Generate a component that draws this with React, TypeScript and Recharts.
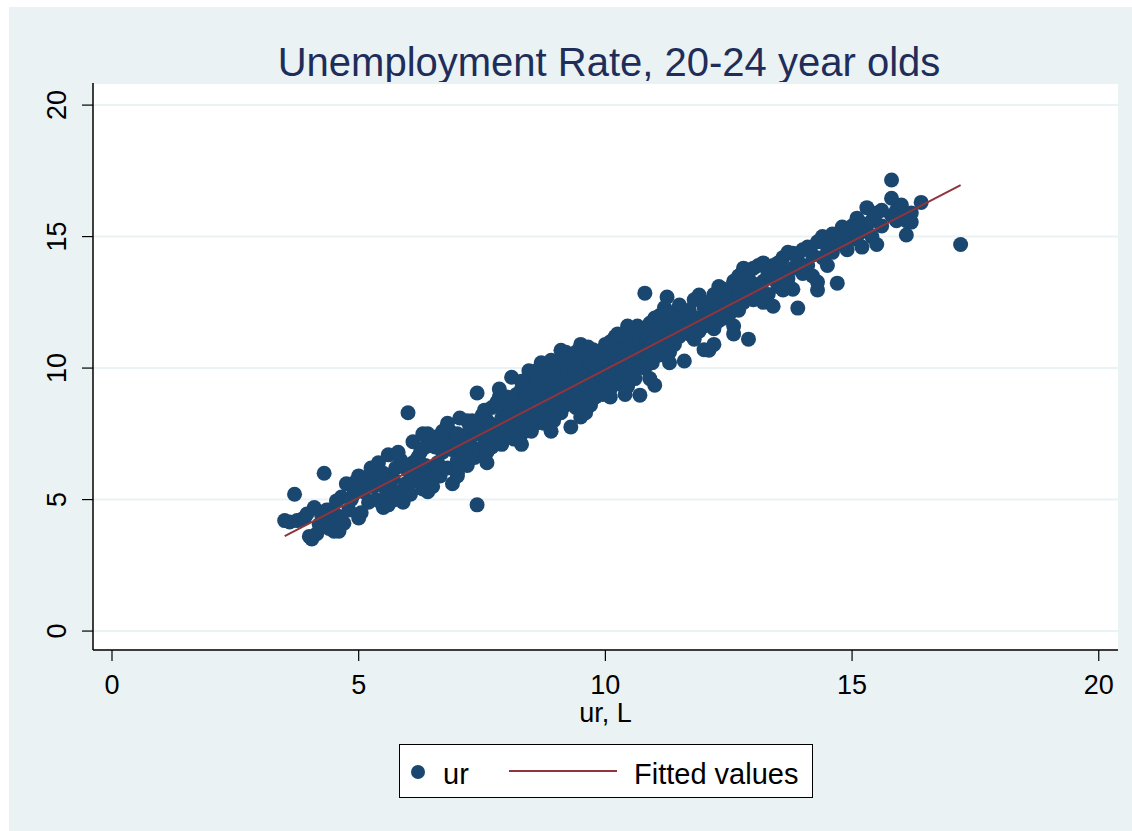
import React from "react";
import { ScatterChart, Scatter, XAxis, YAxis, CartesianGrid, Legend, Label } from "recharts";

const urPairs: [number, number][] = [
  [3.5,4.2],[3.6,4.15],[3.7,5.2],[3.75,4.2],[3.85,4.25],[3.9,4.3],[4.0,3.6],[4.05,3.5],[4.1,4.7],[4.15,3.7],
  [4.2,4.05],[4.3,6.0],[4.3,4.3],[4.35,4.6],[4.4,3.9],[4.45,4.1],[4.5,3.8],[4.55,4.4],[4.6,3.8],[4.65,5.1],
  [4.7,4.1],[4.75,5.6],[4.8,4.6],[4.9,5.2],[4.95,5.7],[5.0,4.3],[5.0,5.9],[5.05,4.5],[4.4,4.6],[4.25,4.4],
  [3.95,4.45],[4.55,4.95],[4.85,5.0],
  [5.1,5.3],[5.15,5.8],[5.2,4.9],[5.25,6.2],[5.3,5.5],[5.35,5.0],[5.4,6.4],[5.45,5.7],[5.5,4.7],[5.5,6.0],
  [5.55,5.4],[5.6,6.7],[5.65,5.1],[5.7,5.8],[5.75,6.2],[5.8,5.3],[5.85,6.5],[5.9,4.9],[5.95,5.6],[6.0,8.3],
  [6.0,6.1],[6.05,5.2],[6.1,6.4],[6.15,5.7],[6.2,6.0],[6.25,6.8],[6.3,5.4],[6.3,7.5],[6.35,6.3],[6.4,5.8],
  [6.45,7.2],[6.5,6.1],[6.5,5.5],[5.3,6.0],[5.6,5.6],[5.9,6.3],[6.2,6.6],[5.45,4.9],[5.75,5.0],[6.35,7.0],
  [6.55,7.0],[6.6,6.4],[6.6,7.4],[6.65,5.9],[6.7,6.8],[6.75,7.3],[6.8,6.2],[6.85,7.6],[6.9,5.6],[6.9,6.9],
  [6.95,7.2],[7.0,6.5],[7.0,7.5],[7.05,8.1],[7.1,6.8],[7.15,7.4],[7.2,6.3],[7.25,7.8],[7.3,7.0],[7.35,6.6],
  [7.4,4.8],[7.4,9.05],[7.4,7.5],[7.45,6.9],[7.5,7.7],[7.5,8.2],[7.55,7.1],[7.6,6.8],[7.6,8.0],[7.65,7.4],
  [7.7,8.5],[7.7,7.0],[7.75,7.8],[7.8,7.3],[7.8,8.7],[7.85,7.6],[7.9,8.1],[7.9,7.1],[7.95,8.4],[8.0,7.7],
  [8.0,8.9],[6.7,7.6],[7.0,6.0],[7.2,7.1],[7.3,8.0],[7.55,8.4],[7.85,8.9],[6.55,6.2],[7.15,6.6],[7.65,7.9],
  [8.05,7.4],[8.05,8.3],[8.05,8.6],[8.1,9.65],[8.1,7.9],[8.1,8.1],[8.15,7.3],[8.15,8.8],[8.2,8.2],[8.2,7.6],
  [8.2,9.0],[8.25,8.5],[8.25,7.9],[8.3,9.2],[8.3,8.0],[8.3,7.5],[8.35,8.7],[8.35,8.3],[8.4,7.8],[8.4,9.1],
  [8.4,8.5],[8.45,9.9],[8.45,8.2],[8.5,8.0],[8.5,8.8],[8.5,9.4],[8.5,7.6],[8.55,8.5],[8.55,9.0],[8.6,7.9],
  [8.6,9.5],[8.6,8.3],[8.65,8.9],[8.65,8.6],[8.7,10.2],[8.7,8.1],[8.7,9.2],[8.75,8.7],[8.75,9.6],[8.75,7.9],
  [8.8,9.0],[8.8,8.4],[8.85,9.8],[8.85,8.8],[8.85,8.2],[8.9,9.3],[8.9,8.6],[8.95,10.0],[8.95,8.9],[8.95,8.0],
  [9.0,9.1],[9.0,9.6],[9.0,8.5],[9.05,8.8],[9.05,9.4],[9.05,10.3],[9.1,10.68],[9.1,9.0],[9.1,8.3],[9.15,9.7],
  [9.15,8.7],[9.2,9.2],[9.2,10.1],[9.2,8.6],[9.25,9.5],[9.25,8.9],[9.25,9.9],[9.3,7.76],[9.3,9.3],[9.3,10.4],
  [9.35,8.8],[9.35,9.7],[9.4,10.0],[9.4,9.1],[9.4,8.5],[9.4,10.6],[9.45,9.4],[9.45,9.8],[9.5,8.14],[9.5,9.0],
  [9.5,10.3],[9.55,9.6],[9.55,8.7],[9.55,10.1],[9.6,9.3],[9.6,10.5],[9.6,8.9],[9.65,9.9],[9.65,9.1],[9.7,10.2],
  [9.7,8.6],[9.7,9.5],[9.75,10.7],[9.75,9.3],[9.8,9.7],[9.8,8.9],[9.8,10.4],[9.85,10.0],[9.85,9.5],[9.9,9.2],
  [9.9,10.6],[9.9,9.8],[9.95,10.3],[9.95,9.0],[10.0,9.6],[10.0,10.9],[10.0,10.1],[10.0,9.3],[10.05,10.5],[10.05,9.8],
  [10.1,9.2],[10.1,10.2],[10.1,11.0],[10.15,9.9],[10.15,10.6],[10.2,10.4],[10.2,9.5],[10.2,11.2],[10.25,10.0],[10.25,10.8],
  [10.3,9.4],[10.3,10.3],[10.3,11.0],[10.35,10.7],[10.35,9.8],[10.4,11.3],[10.4,10.1],[10.4,9.7],[10.45,10.5],[10.45,9.3],
  [10.5,10.9],[10.5,10.2],[10.5,11.5],[10.55,9.9],[10.55,10.6],[10.6,11.1],[10.6,10.4],[10.6,9.6],[10.65,10.8],[10.65,11.6],
  [10.7,8.97],[10.7,10.2],[10.7,11.0],[10.75,10.6],[10.75,11.4],[10.8,12.85],[10.8,10.9],[10.8,10.0],[10.85,11.2],[10.85,10.4],
  [10.9,11.7],[10.9,10.7],[10.95,11.0],[10.95,10.2],[11.0,9.35],[11.0,11.3],[11.0,11.9],
  [11.05,10.8],[11.05,11.6],[11.1,11.1],[11.1,12.0],[11.1,10.5],[11.2,11.4],[11.2,10.9],[11.2,12.3],[11.25,12.7],[11.25,11.0],
  [11.3,11.7],[11.3,10.6],[11.3,11.2],[11.4,12.1],[11.4,11.5],[11.4,10.9],[11.5,11.8],[11.5,11.2],[11.5,12.4],[11.6,10.27],
  [11.6,11.6],[11.6,12.0],[11.7,12.2],[11.7,11.3],[11.7,11.9],[11.8,11.7],[11.8,12.6],[11.8,11.1],[11.9,12.78],[11.9,11.9],
  [11.9,11.4],[12.0,12.3],[12.0,11.6],[12.0,10.7],[12.1,10.68],[12.1,12.5],[12.1,12.0],[12.2,12.1],[12.2,12.8],[12.2,11.5],
  [12.3,13.1],[12.3,12.3],[12.3,11.8],[12.4,12.6],[12.4,11.9],[12.4,13.0],[12.5,12.0],[12.5,12.9],[12.5,12.4],[12.6,13.3],
  [12.6,12.6],[12.6,11.6],[12.7,12.8],[12.7,13.5],[12.7,12.2],[12.8,13.1],[12.8,12.5],[12.8,13.8],[12.9,11.1],[12.9,13.4],
  [12.9,12.9],
  [13.0,13.2],[13.0,12.6],[13.0,13.8],[13.1,13.9],[13.1,12.9],[13.2,14.0],[13.2,13.3],[13.2,12.5],[13.3,13.6],[13.3,12.8],
  [13.4,12.35],[13.4,13.9],[13.4,13.4],[13.5,14.0],[13.5,13.1],[13.6,12.97],[13.6,13.7],[13.6,14.2],[13.7,13.4],[13.7,14.4],
  [13.8,14.37],[13.8,13.0],[13.8,13.8],[13.9,12.28],[13.9,14.1],[14.0,14.5],[14.0,13.6],[14.1,13.9],[14.1,14.6],[14.2,14.3],
  [14.2,13.5],[14.3,12.97],[14.3,13.27],[14.3,14.8],[14.4,15.0],[14.4,14.2],[14.5,14.6],[14.5,13.9],[14.6,15.1],[14.6,14.4],
  [14.7,13.23],[14.7,14.9],[14.8,15.36],[14.8,14.7],[14.9,15.2],[14.9,14.5],[15.0,15.4],[15.0,14.9],[15.1,15.0],[15.1,15.7],
  [15.2,14.6],[15.2,15.5],[15.3,16.1],[15.3,15.2],[15.4,15.6],[15.4,15.0],[15.5,15.9],[15.5,14.7],[15.6,15.4],[15.6,16.0],
  [15.8,17.15],[15.8,16.46],[15.8,15.8],[15.9,16.0],[15.9,15.6],[16.0,15.7],[16.0,16.2],[16.1,15.06],[16.1,15.6],[16.2,15.55],
  [16.2,15.9],[16.4,16.3],[17.2,14.7],
  [8.3,9.5],[8.6,9.9],[8.9,10.3],[9.2,10.6],[9.5,10.9],[9.0,10.2],[9.35,10.5],[9.65,10.8],[10.25,11.3],[10.45,11.6],
  [11.2,12.1],[7.85,9.2],[7.2,8.0],[6.8,7.9],[6.4,7.5],[6.1,7.2],[5.8,6.8],
  [8.9,7.6],[9.6,8.3],[10.1,8.9],[10.4,9.0],[10.9,9.6],[11.3,10.2],[8.3,7.1],[7.6,6.4],[7.0,5.9],[6.4,5.3],
  [5.6,4.8],[12.2,10.9],[12.6,11.3],
];

// Fitted values (linear fit)
const fittedX = [3.5, 17.2];
const fittedY = [3.61, 16.96];

const xTicks = [0, 5, 10, 15, 20];
const yTicks = [0, 5, 10, 15, 20];

const titleText = "Unemployment Rate, 20-24 year olds";
const xTitle = "ur, L";
const seriesName = "ur";
const fitName = "Fitted values";

const DOT = "#1a476f";
const FIT = "#90353b";
const BG = "#eaf2f3";
const FONT = '"Liberation Sans", Arial, sans-serif';

const scatterData = urPairs.map(([x, y]) => ({ x, y }));
const fitData = fittedX.map((x, i) => ({ x, y: fittedY[i] }));

const YTick = (props: any) => {
  const { x, y, payload } = props;
  const cx = x - 23;
  return (
    <text x={cx} y={y} transform={`rotate(-90 ${cx} ${y})`} textAnchor="middle" dominantBaseline="central"
      fontSize={27} fill="#000" fontFamily={FONT}>{payload.value}</text>
  );
};

const XTick = (props: any) => {
  const { x, y, payload } = props;
  return (
    <text x={x} y={y + 31} textAnchor="middle" fontSize={27} fill="#000" fontFamily={FONT}>{payload.value}</text>
  );
};

const Dot = (props: any) => {
  const { cx, cy } = props;
  if (cx == null || cy == null) return <g />;
  return <circle cx={cx} cy={cy} r={7.5} fill={DOT} />;
};

const NoShape = () => <g />;

const LegendBox = () => (
  <div style={{ position: "relative", width: 414, height: 54, background: "#fff", border: "1px solid #000", boxSizing: "border-box", fontFamily: FONT }}>
    <svg width={414} height={54} style={{ position: "absolute", left: 0, top: 0 }}>
      <circle cx={18} cy={27} r={7} fill={DOT} />
      <line x1={109} x2={217} y1={26} y2={26} stroke={FIT} strokeWidth={2} />
      <text x={43} y={39} fontSize={29} fill="#000" fontFamily={FONT}>{seriesName}</text>
      <text x={234} y={39} fontSize={29} fill="#000" fontFamily={FONT}>{fitName}</text>
    </svg>
  </div>
);

export default function App() {
  return (
    <div style={{ position: "absolute", left: 0, top: 0, width: 1132, height: 831, background: "#fff", overflow: "hidden", fontFamily: FONT }}>
      <div style={{ position: "absolute", left: 9, top: 7, width: 1123, height: 824, background: BG }} />
      <div style={{ position: "absolute", left: 109, top: 42, width: 1000, textAlign: "center", fontSize: 40, lineHeight: "40px", color: "#1e2d59", fontFamily: FONT, whiteSpace: "nowrap" }}>
        {titleText}
      </div>
      <div style={{ position: "absolute", left: 0, top: 0 }}>
        <ScatterChart width={1132} height={831} margin={{ top: 83, right: 14, bottom: 121, left: 33 }}>
          <CartesianGrid vertical={false} horizontal={true} stroke={BG} strokeWidth={2} fill="#fff" />
          <XAxis type="number" dataKey="x" domain={[-0.385, 20.39]} ticks={xTicks} allowDataOverflow
            height={60} tickSize={11} tick={XTick} axisLine={{ stroke: "#000", strokeWidth: 1.5 }}
            tickLine={{ stroke: "#000", strokeWidth: 1.2 }}>
            <Label content={(p: any) => {
              const vb = p.viewBox || { x: 93, y: 650, width: 1025 };
              return <text x={vb.x + vb.width / 2} y={vb.y + 72} textAnchor="middle" fontSize={27} fill="#000" fontFamily={FONT}>{xTitle}</text>;
            }} />
          </XAxis>
          <YAxis type="number" dataKey="y" domain={[-0.72, 20.84]} ticks={yTicks} allowDataOverflow
            width={60} tickSize={11} tick={YTick} axisLine={{ stroke: "#000", strokeWidth: 1.5 }}
            tickLine={{ stroke: "#000", strokeWidth: 1.2 }} />
          <Legend verticalAlign="middle" align="center" layout="horizontal" content={() => <LegendBox />}
            wrapperStyle={{ left: 399, top: 744, width: 414, height: 54 }} />
          <Scatter name={seriesName} data={scatterData} shape={Dot} isAnimationActive={false} />
          <Scatter name={fitName} data={fitData} shape={NoShape} line={{ stroke: FIT, strokeWidth: 2 }}
            isAnimationActive={false} />
        </ScatterChart>
      </div>
    </div>
  );
}
